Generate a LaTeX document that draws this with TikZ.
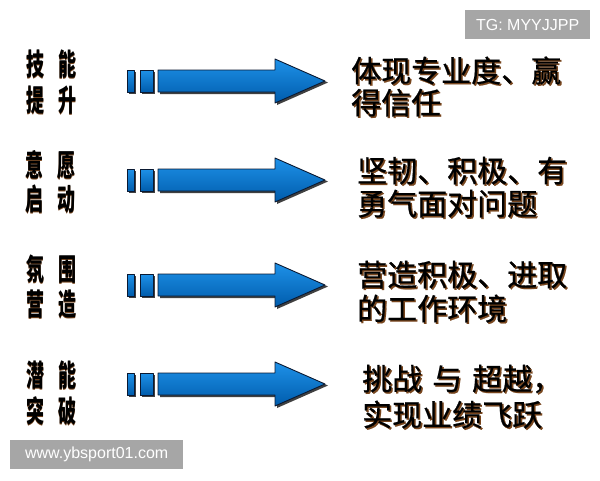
\documentclass[tikz,border=0pt]{standalone}
\usepackage{fontspec}
\newfontfamily\cjk{Noto Sans CJK SC}
\newfontfamily\cjkr[FakeBold=0.6]{Noto Sans CJK SC}
\newfontfamily\wmfont{Liberation Sans}
\definecolor{arrowlight}{RGB}{30,145,232}
\definecolor{arrowdark}{RGB}{0,92,172}
\definecolor{arrowline}{RGB}{10,25,50}
\definecolor{shadowbrown}{RGB}{120,70,30}
\definecolor{wmgray}{RGB}{166,166,166}
\tikzset{
  arrowbody/.style={draw=arrowline, line width=0.9pt, top color=arrowlight, bottom color=arrowdark, line join=round},
  arrowshadow/.style={fill=black!75},
  lefttxt/.style={font=\cjk\bfseries\fontsize{30}{30}\selectfont, inner sep=0pt, anchor=base, xscale=0.6},
  righttxt/.style={font=\cjkr\fontsize{30}{30}\selectfont, inner sep=0pt, anchor=base west},
  wmbox/.style={fill=wmgray, text=white, font=\wmfont\fontsize{16}{16}\selectfont, inner sep=0pt, minimum height=29pt}
}
\newcommand\shadowed[1]{\makebox[0pt][l]{\hspace*{1.5pt}\raisebox{-1.5pt}{\textcolor{shadowbrown}{#1}}}#1}
\newcommand\stxt[5]{%
  \node[#1, text=black] (#2) at (#3,#4) {\shadowed{#5}};
}
\newcommand\blockarrow[1]{%
  \begin{scope}[shift={(0,#1)}]
    \fill[arrowshadow] (129,-9.5) rectangle (136,13);
    \fill[arrowshadow] (142,-9.5) rectangle (155,13);
    \fill[arrowshadow] (160,-9.5) -- (277,-9.5) -- (277,-20.5) -- (328,1.5) -- (277,24) -- (277,13) -- (160,13) -- cycle;
    \draw[arrowbody] (127,-11) rectangle (134,11);
    \draw[arrowbody] (140,-11) rectangle (153,11);
    \draw[arrowbody] (158,-11) -- (275,-11) -- (275,-22) -- (325,0) -- (275,22) -- (275,11) -- (158,11) -- cycle;
  \end{scope}
}
\begin{document}
\begin{tikzpicture}[x=1pt, y=-1pt]
\useasboundingbox (0,0) rectangle (600,480);
\fill[white] (0,0) rectangle (600,480);

% watermarks
\node[wmbox, minimum width=125pt, anchor=north west] (tg) at (465,10) {TG: MYYJJPP};
\node[wmbox, minimum width=173pt, anchor=north west] (www) at (10,440) {www.ybsport01.com};

% arrows
\blockarrow{81}
\blockarrow{180}
\blockarrow{285}
\blockarrow{384}

% left labels
\stxt{lefttxt}{a1}{35}{75}{技}
\stxt{lefttxt}{a2}{67}{75}{能}
\stxt{lefttxt}{a3}{35}{111}{提}
\stxt{lefttxt}{a4}{67}{111}{升}

\stxt{lefttxt}{b1}{34}{176}{意}
\stxt{lefttxt}{b2}{66}{176}{愿}
\stxt{lefttxt}{b3}{34}{210}{启}
\stxt{lefttxt}{b4}{66}{210}{动}

\stxt{lefttxt}{c1}{35}{280}{氛}
\stxt{lefttxt}{c2}{67}{280}{围}
\stxt{lefttxt}{c3}{35}{315}{营}
\stxt{lefttxt}{c4}{67}{315}{造}

\stxt{lefttxt}{d1}{35}{386}{潜}
\stxt{lefttxt}{d2}{67}{386}{能}
\stxt{lefttxt}{d3}{35}{422}{突}
\stxt{lefttxt}{d4}{67}{422}{破}

% right texts
\stxt{righttxt}{r1a}{351}{82}{体现专业度、赢}
\stxt{righttxt}{r1b}{351}{114}{得信任}

\stxt{righttxt}{r2a}{357}{182}{坚韧、积极、有}
\stxt{righttxt}{r2b}{357}{215}{勇气面对问题}

\stxt{righttxt}{r3a}{357}{286}{营造积极、进取}
\stxt{righttxt}{r3b}{357}{320}{的工作环境}

\stxt{righttxt}{r4a}{362}{390}{挑战\hspace*{10pt}与\hspace*{10pt}超越，}
\stxt{righttxt}{r4b}{362}{426}{实现业绩飞跃}
\end{tikzpicture}
\end{document}
